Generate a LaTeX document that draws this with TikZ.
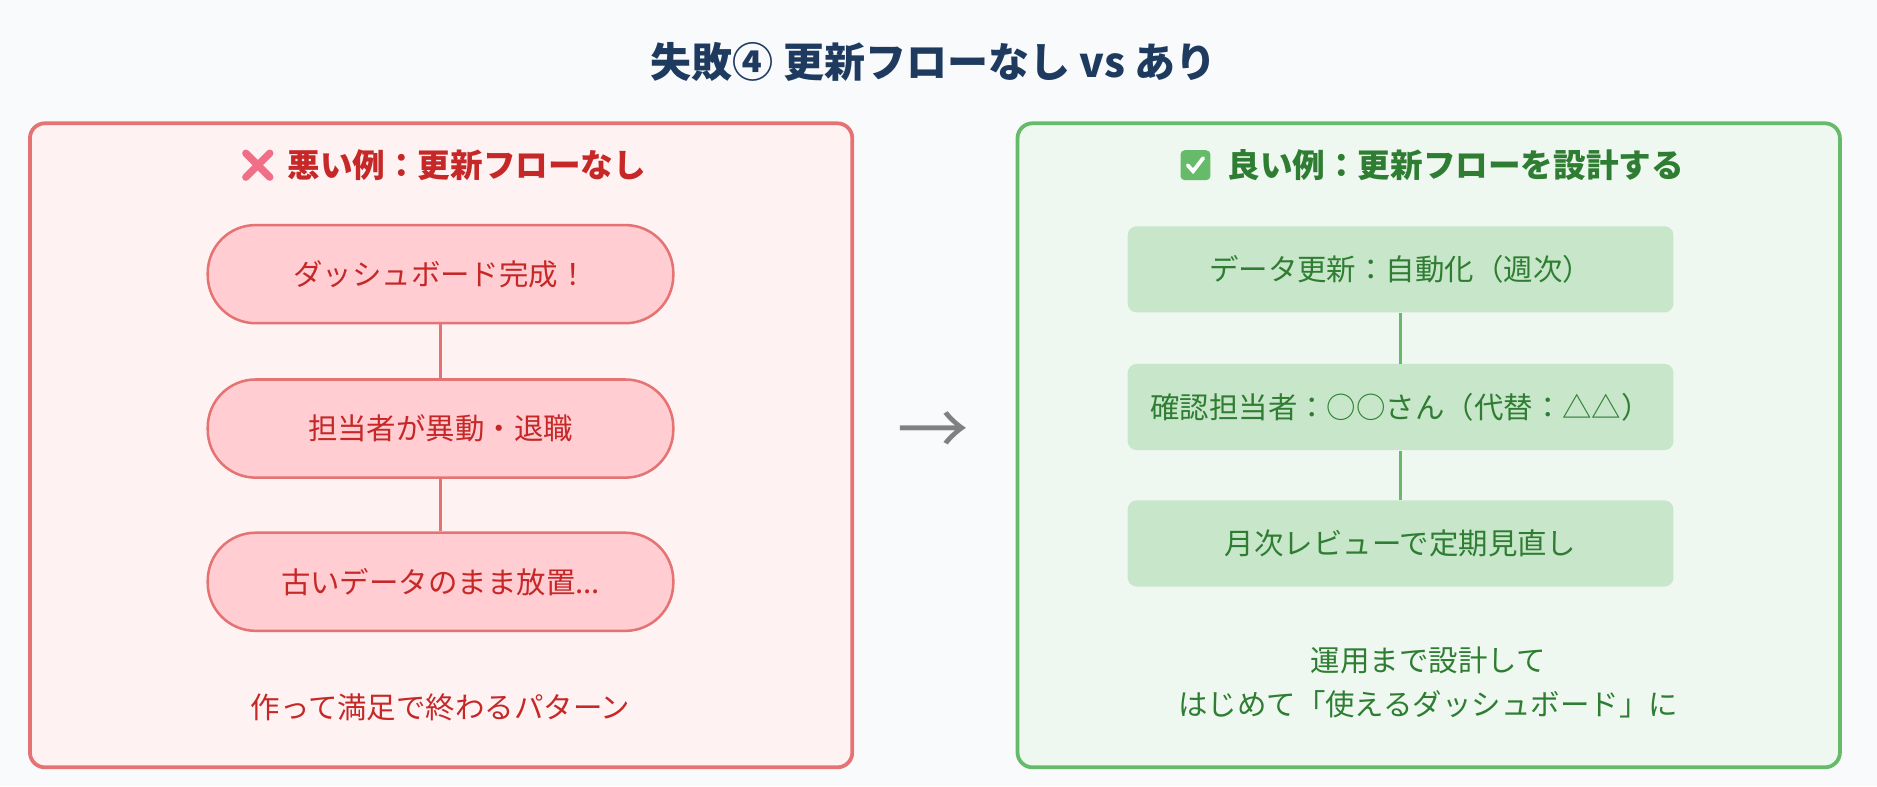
\documentclass[tikz,border=0pt]{standalone}
\usepackage{fontspec}
\setmainfont{Noto Sans CJK JP}
\usetikzlibrary{positioning}
\definecolor{bgc}{HTML}{F8FAFC}
\definecolor{titlec}{HTML}{1E3A5F}
\definecolor{badfill}{HTML}{FFF2F2}
\definecolor{badline}{HTML}{E57373}
\definecolor{badbox}{HTML}{FFCDD2}
\definecolor{badtext}{HTML}{C62828}
\definecolor{goodfill}{HTML}{EEF8F0}
\definecolor{goodline}{HTML}{66BB6A}
\definecolor{goodbox}{HTML}{C8E6C9}
\definecolor{goodtext}{HTML}{2E7D32}
\definecolor{crossc}{HTML}{F06E86}
\begin{document}
\begin{tikzpicture}[
            x=0.02cm, y=-0.02cm,
            every node/.style={inner sep=2pt},
            panel/.style={rounded corners=0.25cm, line width=1.8pt},
            badstep/.style={rounded corners=0.8cm, draw=badline, line width=1.2pt, fill=badbox,
                text=badtext, minimum width=7.78cm, minimum height=1.64cm, font=\fontsize{14}{17}\selectfont},
            goodstep/.style={rounded corners=0.15cm, fill=goodbox, text=goodtext,
                minimum width=9.12cm, minimum height=1.44cm, font=\fontsize{14}{17}\selectfont},
            link/.style={line width=1.8pt}
        ]
        \fill[bgc] (0,0) rectangle (1568,657);
        \node[text=titlec, font=\fontsize{19.5}{23}\selectfont\bfseries] (title) at (780,52) {失敗④ 更新フローなし vs あり};
        % left panel
        \draw[panel, draw=badline, fill=badfill] (25,103) rectangle (712,641);
        \node[text=badtext, font=\fontsize{15.5}{18}\selectfont\bfseries] (badhead) at (390,138) {悪い例：更新フローなし};
        \coordinate[left=0.42cm of badhead.west] (cross);
        \draw[line width=3.5pt, line cap=round, crossc] ([shift={(-0.2cm,-0.2cm)}]cross) -- ([shift={(0.2cm,0.2cm)}]cross)
            ([shift={(-0.2cm,0.2cm)}]cross) -- ([shift={(0.2cm,-0.2cm)}]cross);
        \node[badstep] (b1) at (368,229) {ダッシュボード完成！};
        \node[badstep] (b2) at (368,358) {担当者が異動・退職};
        \node[badstep] (b3) at (368,486) {古いデータのまま放置...};
        \draw[link, badline] (b1) -- (b2);
        \draw[link, badline] (b2) -- (b3);
        \node[text=badtext, font=\fontsize{14}{17}\selectfont] (badnote) at (368,591) {作って満足で終わるパターン};
        % arrow
        \node[text=gray, font=\fontsize{34}{36}\selectfont] (arrow) at (780,362) {→};
        % right panel
        \draw[panel, draw=goodline, fill=goodfill] (850,103) rectangle (1537,641);
        \node[text=goodtext, font=\fontsize{15.5}{18}\selectfont\bfseries] (goodhead) at (1216,138) {良い例：更新フローを設計する};
        \node[fill=goodline, rounded corners=2pt, minimum size=0.5cm, inner sep=0pt, left=0.2cm of goodhead] (check) {};
        \draw[white, line width=1.8pt, line cap=round] ([shift={(-0.13cm,0cm)}]check.center) -- ([shift={(-0.04cm,-0.1cm)}]check.center) -- ([shift={(0.13cm,0.12cm)}]check.center);
        \node[goodstep] (g1) at (1170,225) {データ更新：自動化（週次）};
        \node[goodstep] (g2) at (1170,340) {確認担当者：○○さん（代替：△△）};
        \node[goodstep] (g3) at (1170,454) {月次レビューで定期見直し};
        \draw[link, goodline] (g1) -- (g2);
        \draw[link, goodline] (g2) -- (g3);
        \node[text=goodtext, align=center, font=\fontsize{14}{21}\selectfont] (goodnote) at (1193,570) {運用まで設計して\\はじめて「使えるダッシュボード」に};
\end{tikzpicture}
\end{document}
